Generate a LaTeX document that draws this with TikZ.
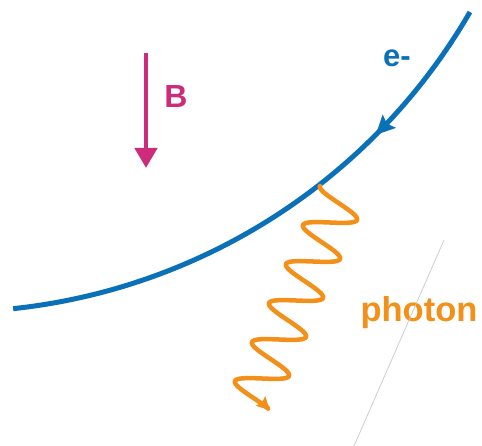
\documentclass[tikz,border=0pt]{standalone}
\usepackage{fontspec}
\setmainfont{Liberation Sans}
\usetikzlibrary{arrows.meta, decorations.markings}
\definecolor{elec}{HTML}{0A71B9}
\definecolor{field}{HTML}{CC2C7A}
\definecolor{light}{HTML}{F39019}
\definecolor{guide}{HTML}{C8C8C8}
\tikzset{
  orbit/.style={draw=elec, line width=5pt, postaction={decorate},
                decoration={markings, mark=at position 0.275 with
                  {\arrow{Stealth[length=19pt, width=18pt, inset=3pt]}}}},
  bfl/.style={-{Triangle[length=20pt, width=22pt]}, draw=field, fill=field, line width=4.5pt},
  wave/.style={-{Stealth[length=13pt, width=13pt, inset=2pt]}, draw=light, line width=4.5pt,
               line cap=round, line join=round},
  lbl/.style={inner sep=0pt, anchor=base, font=\bfseries},
}

\begin{document}
\begin{tikzpicture}[x=1pt, y=-1pt]
  \useasboundingbox (0,0) rectangle (482,446);
  % electron path (circle arc, centre off the page)
  \coordinate (orbtop) at (470,12);
  \draw[orbit] (orbtop) arc[start angle=-30.1, end angle=-83.9, radius=602pt] coordinate (orbend);
  \node[lbl, text=elec, font=\fontsize{31}{31}\selectfont\bfseries] (eminus) at (397,67) {e-};

  % magnetic field
  \coordinate (btop) at (146,53);
  \coordinate (bbot) at (146,168);
  \draw[bfl] (btop) -- (bbot);
  \node[lbl, text=field, font=\fontsize{32}{32}\selectfont\bfseries] (bname) at (176,108) {B};

  % emitted photon
  \draw[wave] plot[domain=-0.5:4.91, samples=240, smooth, variable=\s]
    ({334.25-17*\s+22.75*cos(360*\s)}, {212.75+39*\s+7.25*cos(360*\s)});
  \node[lbl, text=light, font=\fontsize{34.5}{34.5}\selectfont\bfseries] (pname) at (419,322) {photon};

  % thin guide line
  \coordinate (gtop) at (444,240);
  \coordinate (gbot) at (354,446);
  \draw[guide, line width=0.7pt] (gtop) -- (gbot);
\end{tikzpicture}
\end{document}
